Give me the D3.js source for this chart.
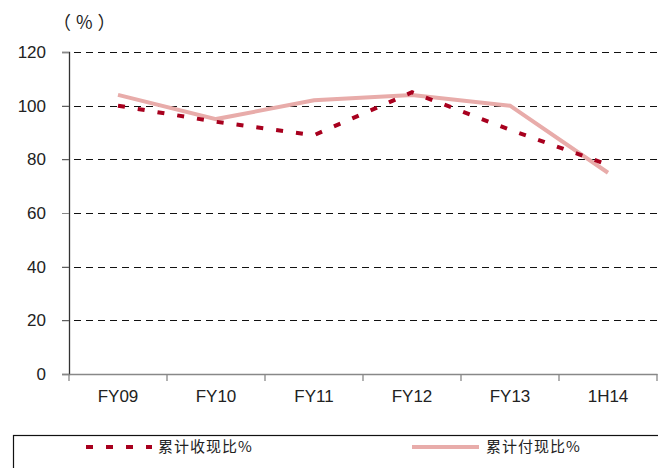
<!DOCTYPE html>
<html>
<head>
<meta charset="utf-8">
<script src="https://cdn.jsdelivr.net/npm/d3@7"></script>
<style>
  body { margin: 0; background: #fff; }
  svg { display: block; }
  .axisText { font-family: "Liberation Sans Narrow", "Liberation Sans", sans-serif; font-size: 17px; fill: #222; }
  .unitText { font-family: "Noto Sans CJK SC", sans-serif; font-size: 18px; fill: #222; letter-spacing: 5px; }
  .legendText { font-family: "Noto Sans CJK SC", sans-serif; font-size: 15px; fill: #222; letter-spacing: 1px; }
</style>
</head>
<body>
<div id="chart"></div>
<script>
// chart data
var categories = ["FY09", "FY10", "FY11", "FY12", "FY13", "1H14"];
var receiptRatio = [100, 94, 89, 105, 91, 78];   // 累计收现比%
var paymentRatio = [104, 95, 102, 104, 100, 75]; // 累计付现比%
var yTicks = [0, 20, 40, 60, 80, 100, 120];
var seriesNames = ["累计收现比%", "累计付现比%"];

var W = 658, H = 468;
var margin = {top: 52, left: 69, right: 1, bottom: 94};

var svg = d3.select("#chart").append("svg")
    .attr("width", W)
    .attr("height", H);

// scales
var xScale = d3.scaleBand()
    .domain(categories)
    .range([margin.left, W - margin.right]);

var yScale = d3.scaleLinear()
    .domain([0, 120])
    .range([H - margin.bottom, margin.top]);

// dashed grid lines
svg.append("g")
    .selectAll("line")
    .data(yTicks.filter(function(d) { return d > 0; }))
    .enter()
    .append("line")
    .attr("x1", margin.left - 7)
    .attr("x2", W)
    .attr("y1", function(d) { return Math.round(yScale(d)) + 0.5; })
    .attr("y2", function(d) { return Math.round(yScale(d)) + 0.5; })
    .attr("stroke", "#111")
    .attr("stroke-width", 1)
    .attr("stroke-dasharray", "7,5");

// y axis
var yAxis = d3.axisLeft(yScale)
    .tickValues(yTicks)
    .tickSize(7)
    .tickPadding(16);

var yG = svg.append("g")
    .attr("transform", "translate(" + margin.left + ",0)")
    .call(yAxis);
yG.select(".domain").attr("stroke", "#333").attr("stroke-width", 1.3);
yG.selectAll(".tick line").attr("stroke", "#888");
yG.selectAll(".tick text").attr("class", "axisText").attr("fill", "#222");

// x axis
var xAxis = d3.axisBottom(xScale)
    .tickSize(0)
    .tickPadding(16);

var xG = svg.append("g")
    .attr("transform", "translate(0," + yScale(0) + ")")
    .call(xAxis);
xG.select(".domain").attr("stroke", "#888").attr("stroke-width", 1.5);
xG.selectAll(".tick text").attr("class", "axisText").attr("fill", "#222");

// category boundary ticks
var bounds = categories.map(function(c) { return xScale(c); }).concat([xScale.range()[1]]);
svg.append("g")
    .selectAll("line")
    .data(bounds)
    .enter()
    .append("line")
    .attr("x1", function(d) { return d; })
    .attr("x2", function(d) { return d; })
    .attr("y1", yScale(0))
    .attr("y2", yScale(0) + 7)
    .attr("stroke", "#888")
    .attr("stroke-width", 1.3);

// unit label
svg.append("text")
    .attr("x", 53)
    .attr("y", 29)
    .attr("class", "unitText")
    .text("（%）");

// lines
var line = d3.line()
    .x(function(d, i) { return xScale(categories[i]) + xScale.bandwidth() / 2; })
    .y(function(d) { return yScale(d); });

svg.append("path")
    .datum(paymentRatio)
    .attr("d", line)
    .attr("fill", "none")
    .attr("stroke", "#E8ACAA")
    .attr("stroke-width", 4);

svg.append("path")
    .datum(receiptRatio)
    .attr("d", line)
    .attr("fill", "none")
    .attr("stroke", "#A8001E")
    .attr("stroke-width", 4)
    .attr("stroke-dasharray", "7,13");

// legend box
svg.append("rect")
    .attr("x", 13.5)
    .attr("y", 435.5)
    .attr("width", W)
    .attr("height", 60)
    .attr("fill", "none")
    .attr("stroke", "#111")
    .attr("stroke-width", 1.2);

var legendY = 447;
svg.append("line")
    .attr("x1", 86).attr("x2", 152)
    .attr("y1", legendY).attr("y2", legendY)
    .attr("stroke", "#A8001E")
    .attr("stroke-width", 4)
    .attr("stroke-dasharray", "7,13");
svg.append("text")
    .attr("x", 158).attr("y", legendY + 5)
    .attr("class", "legendText")
    .text(seriesNames[0]);

svg.append("line")
    .attr("x1", 412).attr("x2", 479)
    .attr("y1", legendY).attr("y2", legendY)
    .attr("stroke", "#E8ACAA")
    .attr("stroke-width", 4);
svg.append("text")
    .attr("x", 486).attr("y", legendY + 5)
    .attr("class", "legendText")
    .text(seriesNames[1]);
</script>
</body>
</html>
